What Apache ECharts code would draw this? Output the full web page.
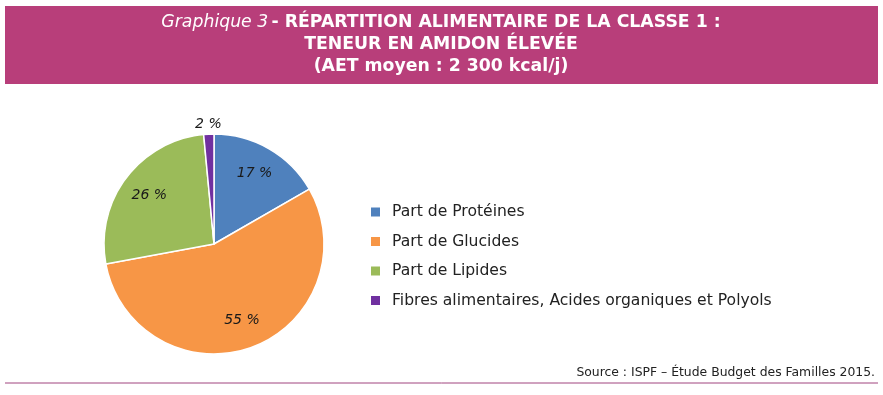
<!DOCTYPE html>
<html><head><meta charset="utf-8">
<script src="https://cdn.jsdelivr.net/npm/echarts@6/dist/echarts.min.js"></script>
<style>html,body{margin:0;padding:0;background:#fff}#c{width:883px;height:395px}</style>
</head><body><div id="c"></div>
<script>
const categories = ['Part de Protéines', 'Part de Glucides', 'Part de Lipides', 'Fibres alimentaires, Acides organiques et Polyols'];
const values = [16.7, 55.4, 26.4, 1.5];
const colors = ['#4F81BD', '#F79646', '#9BBB59', '#7030A0'];

const chart = echarts.init(document.getElementById('c'));
const cx = 214, cy = 244, R = 110;
const FONT = 'DejaVu Sans';
const labelFmt = p => Math.round(p.value) + ' %';
const labelStyle = { formatter: labelFmt, fontFamily: FONT, fontStyle: 'italic', fontSize: 14, color: '#1a1a1a' };
const mainData = categories.map((n, i) => ({ name: n, value: values[i], itemStyle: { color: colors[i] } }));
const overlayData = categories.map((n, i) => ({ name: n, value: values[i], label: { show: values[i] >= 5 } }));
const outerData = categories.map((n, i) => ({ name: n, value: values[i], label: { show: values[i] < 5 } }));
const transparent = { color: 'rgba(0,0,0,0)', borderWidth: 0 };
const TS = 17.3;
chart.setOption({
  animation: false,
  graphic: [
    { type: 'rect', shape: { x: 5, y: 6, width: 873, height: 78 }, style: { fill: '#B83E7A' }, z: 0 },
    { type: 'text', x: 441, y: 23, style: {
        text: '{i|Graphique 3} {b|- RÉPARTITION ALIMENTAIRE DE LA CLASSE 1 :}',
        align: 'center', verticalAlign: 'middle', rich: {
          i: { fontFamily: FONT, fontStyle: 'italic', fontSize: TS, fill: '#fff' },
          b: { fontFamily: FONT, fontWeight: 'bold', fontSize: TS, fill: '#fff' }
        } }, z: 2 },
    { type: 'text', x: 441, y: 45, style: { text: 'TENEUR EN AMIDON ÉLEVÉE', align: 'center', verticalAlign: 'middle',
        fontFamily: FONT, fontWeight: 'bold', fontSize: TS, fill: '#fff' }, z: 2 },
    { type: 'text', x: 441, y: 67, style: { text: '(AET moyen : 2 300 kcal/j)', align: 'center', verticalAlign: 'middle',
        fontFamily: FONT, fontWeight: 'bold', fontSize: TS, fill: '#fff' }, z: 2 },
    { type: 'text', x: 875, y: 373, style: { text: 'Source : ISPF – Étude Budget des Familles 2015.', align: 'right', verticalAlign: 'middle',
        fontFamily: FONT, fontSize: 12.4, fill: '#222' }, z: 2 },
    { type: 'line', shape: { x1: 5, y1: 383, x2: 878, y2: 383 }, style: { stroke: '#A0457F', lineWidth: 1 }, z: 2 }
  ],
  legend: {
    orient: 'vertical', left: 364, top: 198, itemWidth: 11, itemHeight: 11, itemGap: 11.5,
    icon: 'rect',
    textStyle: { fontFamily: FONT, fontSize: 15.6, lineHeight: 18, color: '#222', padding: [0, 0, 0, 6] },
    data: categories
  },
  series: [
    {
      type: 'pie', center: [cx, cy], radius: [0, R], startAngle: 90, clockwise: true,
      data: mainData,
      itemStyle: { borderColor: '#fff', borderWidth: 1.5 },
      label: { show: false }, labelLine: { show: false },
      emphasis: { disabled: true }
    },
    {
      type: 'pie', center: [cx, cy], radius: [0, R * 1.42], startAngle: 90, clockwise: true,
      data: overlayData, silent: true, itemStyle: transparent,
      label: Object.assign({ position: 'inside' }, labelStyle),
      labelLine: { show: false }, emphasis: { disabled: true }
    },
    {
      type: 'pie', center: [cx, cy], radius: [0, R * 2.12], startAngle: 90, clockwise: true,
      data: outerData, silent: true, itemStyle: transparent,
      label: Object.assign({ position: 'inside' }, labelStyle),
      labelLine: { show: false }, emphasis: { disabled: true }
    }
  ]
});
</script></body></html>
